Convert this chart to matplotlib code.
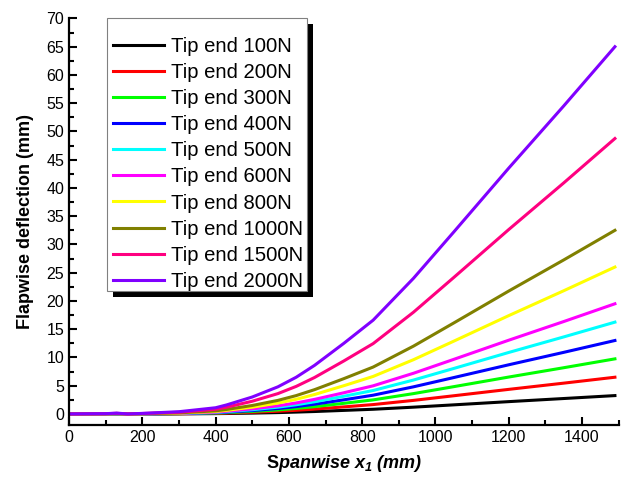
import numpy as np
import matplotlib.pyplot as plt
from matplotlib.patches import Rectangle
from matplotlib.ticker import MultipleLocator

plt.rcParams['font.family'] = ['Liberation Sans', 'DejaVu Sans']
plt.rcParams['mathtext.fontset'] = 'custom'
plt.rcParams['mathtext.bfit'] = 'Liberation Sans:italic:bold'
plt.rcParams['mathtext.it'] = 'Liberation Sans:italic'
plt.rcParams['mathtext.rm'] = 'Liberation Sans'

x = [0, 100, 130, 160, 200, 300, 400, 430, 500, 570, 620, 670, 750, 830, 940, 1050, 1200, 1350, 1490]

y100 = [0, 0, 0.01, 0, 0.01, 0.02, 0.06, 0.08, 0.15, 0.24, 0.33, 0.43, 0.63, 0.83, 1.2, 1.61, 2.18, 2.73, 3.25]
y200 = [0, 0.01, 0.02, 0, 0.01, 0.04, 0.11, 0.16, 0.3, 0.48, 0.65, 0.86, 1.25, 1.66, 2.4, 3.22, 4.35, 5.45, 6.5]
y300 = [0, 0.01, 0.02, 0, 0.02, 0.06, 0.17, 0.24, 0.45, 0.72, 0.98, 1.29, 1.88, 2.49, 3.6, 4.83, 6.53, 8.18, 9.75]
y400 = [0, 0.01, 0.03, 0, 0.02, 0.08, 0.22, 0.32, 0.6, 0.96, 1.3, 1.72, 2.5, 3.32, 4.8, 6.44, 8.7, 10.9, 13.0]
y500 = [0, 0.01, 0.04, 0, 0.03, 0.1, 0.28, 0.4, 0.75, 1.2, 1.63, 2.15, 3.13, 4.15, 6.0, 8.05, 10.88, 13.63, 16.25]
y600 = [0, 0.02, 0.05, 0, 0.03, 0.12, 0.33, 0.48, 0.9, 1.44, 1.95, 2.58, 3.75, 4.98, 7.2, 9.66, 13.05, 16.35, 19.5]
y800 = [0, 0.02, 0.06, 0, 0.04, 0.16, 0.44, 0.64, 1.2, 1.92, 2.6, 3.44, 5.0, 6.64, 9.6, 12.88, 17.4, 21.8, 26.0]
y1000 = [0, 0.03, 0.08, 0, 0.05, 0.2, 0.55, 0.8, 1.5, 2.4, 3.25, 4.3, 6.25, 8.3, 12.0, 16.1, 21.75, 27.25, 32.5]
y1500 = [0, 0.04, 0.11, 0, 0.08, 0.3, 0.83, 1.2, 2.25, 3.6, 4.88, 6.45, 9.38, 12.45, 18.0, 24.15, 32.63, 40.88, 48.75]
y2000 = [0, 0.05, 0.15, 0.0, 0.1, 0.4, 1.1, 1.6, 3.0, 4.8, 6.5, 8.6, 12.5, 16.6, 24.0, 32.2, 43.5, 54.5, 65.0]

labels = ['Tip end 100N', 'Tip end 200N', 'Tip end 300N', 'Tip end 400N', 'Tip end 500N',
          'Tip end 600N', 'Tip end 800N', 'Tip end 1000N', 'Tip end 1500N', 'Tip end 2000N']
series = [y100, y200, y300, y400, y500, y600, y800, y1000, y1500, y2000]
colors = ['#000000', '#ff0000', '#00ff00', '#0000ff', '#00ffff',
          '#ff00ff', '#ffff00', '#808000', '#ff0080', '#8000ff']

W, H = 628, 486
fig = plt.figure(figsize=(W / 100, H / 100), dpi=100)
ax = fig.add_axes([0.110, 0.125, 0.875, 0.837])

for ys, lab, c in zip(series, labels, colors):
    ax.plot(x, ys, color=c, lw=2.2, label=lab)

ax.set_xlim(0, 1500)
ax.set_ylim(-2, 70)
ax.xaxis.set_major_locator(MultipleLocator(200))
ax.xaxis.set_minor_locator(MultipleLocator(100))
ax.yaxis.set_major_locator(MultipleLocator(5))
ax.yaxis.set_minor_locator(MultipleLocator(2.5))
for s in ['top', 'right']:
    ax.spines[s].set_visible(False)
for s in ['left', 'bottom']:
    ax.spines[s].set_linewidth(1.6)
ax.tick_params(which='major', direction='in', length=6, width=1.5, labelsize=11.5)
ax.tick_params(which='minor', direction='in', length=3.5, width=1.5)

ax.set_ylabel('Flapwise deflection (mm)', fontsize=13, fontweight='bold', labelpad=9)
ax.set_xlabel(r'S$\mathbfit{panwise\ x_1\ (mm)}$', fontsize=13, fontweight='bold', labelpad=6)

# legend box with a solid black drop shadow
frame = (107, 18, 307, 291)  # left, top, right, bottom in pixels
sh = 6
ax.add_patch(Rectangle(((frame[0] + sh) / W, 1 - (frame[3] + sh) / H),
                       (frame[2] - frame[0]) / W, (frame[3] - frame[1]) / H,
                       transform=fig.transFigure, facecolor='black', edgecolor='none',
                       zorder=5, clip_on=False))
ax.add_patch(Rectangle((frame[0] / W, 1 - frame[3] / H),
                       (frame[2] - frame[0]) / W, (frame[3] - frame[1]) / H,
                       transform=fig.transFigure, facecolor='white', edgecolor='#808080',
                       lw=0.8, zorder=5.5, clip_on=False))

leg = ax.legend(loc='upper left', bbox_to_anchor=(113 / W, 1 - 37 / H),
                bbox_transform=fig.transFigure, fontsize=14.6, frameon=False,
                borderaxespad=0, borderpad=0, labelspacing=0.35,
                handlelength=2.5, handletextpad=0.35)
leg.set_zorder(6)

fig.savefig('out.png', dpi=100)
